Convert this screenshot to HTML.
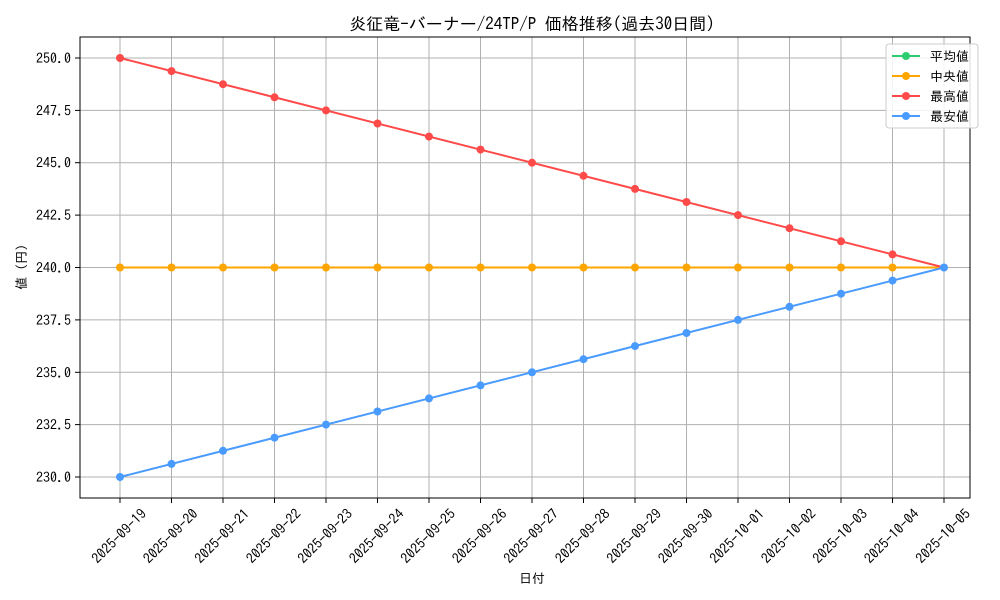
<!DOCTYPE html>
<html><head><meta charset="utf-8"><style>
body{margin:0;background:#fff}
svg{display:block;font-family:"IPAGothic","Noto Sans CJK JP",monospace}
</style></head><body>
<svg width="1000" height="600" viewBox="0 0 1000 600" xmlns="http://www.w3.org/2000/svg">
<rect width="1000" height="600" fill="#fff"/>
<text x="532" y="30" font-size="17" text-anchor="middle" fill="#000">炎征竜-バーナー/24TP/P 価格推移(過去30日間)</text>
<g stroke="#b0b0b0" stroke-width="1">
<line x1="120" y1="37" x2="120" y2="498"/><line x1="171.5" y1="37" x2="171.5" y2="498"/><line x1="223" y1="37" x2="223" y2="498"/><line x1="274.5" y1="37" x2="274.5" y2="498"/><line x1="326" y1="37" x2="326" y2="498"/><line x1="377.5" y1="37" x2="377.5" y2="498"/><line x1="429" y1="37" x2="429" y2="498"/><line x1="480.5" y1="37" x2="480.5" y2="498"/><line x1="532" y1="37" x2="532" y2="498"/><line x1="583.5" y1="37" x2="583.5" y2="498"/><line x1="635" y1="37" x2="635" y2="498"/><line x1="686.5" y1="37" x2="686.5" y2="498"/><line x1="738" y1="37" x2="738" y2="498"/><line x1="789.5" y1="37" x2="789.5" y2="498"/><line x1="841" y1="37" x2="841" y2="498"/><line x1="892.5" y1="37" x2="892.5" y2="498"/><line x1="944" y1="37" x2="944" y2="498"/>
<line x1="80" y1="58" x2="970" y2="58"/><line x1="80" y1="110.4" x2="970" y2="110.4"/><line x1="80" y1="162.7" x2="970" y2="162.7"/><line x1="80" y1="215.1" x2="970" y2="215.1"/><line x1="80" y1="267.5" x2="970" y2="267.5"/><line x1="80" y1="319.9" x2="970" y2="319.9"/><line x1="80" y1="372.3" x2="970" y2="372.3"/><line x1="80" y1="424.6" x2="970" y2="424.6"/><line x1="80" y1="477" x2="970" y2="477"/>
</g>
<rect x="80" y="37" width="890" height="461" fill="none" stroke="#000" stroke-width="1"/>
<g stroke="#000"><line x1="75" y1="58" x2="80" y2="58"/><line x1="75" y1="110.4" x2="80" y2="110.4"/><line x1="75" y1="162.7" x2="80" y2="162.7"/><line x1="75" y1="215.1" x2="80" y2="215.1"/><line x1="75" y1="267.5" x2="80" y2="267.5"/><line x1="75" y1="319.9" x2="80" y2="319.9"/><line x1="75" y1="372.3" x2="80" y2="372.3"/><line x1="75" y1="424.6" x2="80" y2="424.6"/><line x1="75" y1="477" x2="80" y2="477"/></g>
<g font-size="14" text-anchor="end" fill="#000">
<text x="71" y="63">250.0</text><text x="71" y="115.4">247.5</text><text x="71" y="167.7">245.0</text><text x="71" y="220.1">242.5</text><text x="71" y="272.5">240.0</text><text x="71" y="324.9">237.5</text><text x="71" y="377.3">235.0</text><text x="71" y="429.6">232.5</text><text x="71" y="482">230.0</text>
</g>
<text transform="translate(26,267) rotate(-90)" font-size="13" text-anchor="middle">値 (円)</text>
<text x="532" y="583" font-size="13" text-anchor="middle">日付</text>
<g stroke="#000">
<line x1="120" y1="498" x2="120" y2="503"/><line x1="171.5" y1="498" x2="171.5" y2="503"/><line x1="223" y1="498" x2="223" y2="503"/><line x1="274.5" y1="498" x2="274.5" y2="503"/><line x1="326" y1="498" x2="326" y2="503"/><line x1="377.5" y1="498" x2="377.5" y2="503"/><line x1="429" y1="498" x2="429" y2="503"/><line x1="480.5" y1="498" x2="480.5" y2="503"/><line x1="532" y1="498" x2="532" y2="503"/><line x1="583.5" y1="498" x2="583.5" y2="503"/><line x1="635" y1="498" x2="635" y2="503"/><line x1="686.5" y1="498" x2="686.5" y2="503"/><line x1="738" y1="498" x2="738" y2="503"/><line x1="789.5" y1="498" x2="789.5" y2="503"/><line x1="841" y1="498" x2="841" y2="503"/><line x1="892.5" y1="498" x2="892.5" y2="503"/><line x1="944" y1="498" x2="944" y2="503"/>
</g>
<g font-size="14" text-anchor="middle" fill="#000">
<text transform="translate(119,536) rotate(-45)" dy="5">2025-09-19</text>
<text transform="translate(170.5,536) rotate(-45)" dy="5">2025-09-20</text>
<text transform="translate(222,536) rotate(-45)" dy="5">2025-09-21</text>
<text transform="translate(273.5,536) rotate(-45)" dy="5">2025-09-22</text>
<text transform="translate(325,536) rotate(-45)" dy="5">2025-09-23</text>
<text transform="translate(376.5,536) rotate(-45)" dy="5">2025-09-24</text>
<text transform="translate(428,536) rotate(-45)" dy="5">2025-09-25</text>
<text transform="translate(479.5,536) rotate(-45)" dy="5">2025-09-26</text>
<text transform="translate(531,536) rotate(-45)" dy="5">2025-09-27</text>
<text transform="translate(582.5,536) rotate(-45)" dy="5">2025-09-28</text>
<text transform="translate(634,536) rotate(-45)" dy="5">2025-09-29</text>
<text transform="translate(685.5,536) rotate(-45)" dy="5">2025-09-30</text>
<text transform="translate(737,536) rotate(-45)" dy="5">2025-10-01</text>
<text transform="translate(788.5,536) rotate(-45)" dy="5">2025-10-02</text>
<text transform="translate(840,536) rotate(-45)" dy="5">2025-10-03</text>
<text transform="translate(891.5,536) rotate(-45)" dy="5">2025-10-04</text>
<text transform="translate(943,536) rotate(-45)" dy="5">2025-10-05</text>
</g>
<g fill="#ffa500"><polyline fill="none" stroke="#ffa500" stroke-width="2" points="120,267.5 944,267.5"/>
<circle cx="120" cy="267.5" r="4"/><circle cx="171.5" cy="267.5" r="4"/><circle cx="223" cy="267.5" r="4"/><circle cx="274.5" cy="267.5" r="4"/><circle cx="326" cy="267.5" r="4"/><circle cx="377.5" cy="267.5" r="4"/><circle cx="429" cy="267.5" r="4"/><circle cx="480.5" cy="267.5" r="4"/><circle cx="532" cy="267.5" r="4"/><circle cx="583.5" cy="267.5" r="4"/><circle cx="635" cy="267.5" r="4"/><circle cx="686.5" cy="267.5" r="4"/><circle cx="738" cy="267.5" r="4"/><circle cx="789.5" cy="267.5" r="4"/><circle cx="841" cy="267.5" r="4"/><circle cx="892.5" cy="267.5" r="4"/></g>
<g fill="#ff4a4a"><polyline fill="none" stroke="#ff4a4a" stroke-width="2" points="120,58 944,267.5"/>
<circle cx="120" cy="58" r="4"/><circle cx="171.5" cy="71.1" r="4"/><circle cx="223" cy="84.2" r="4"/><circle cx="274.5" cy="97.3" r="4"/><circle cx="326" cy="110.4" r="4"/><circle cx="377.5" cy="123.5" r="4"/><circle cx="429" cy="136.6" r="4"/><circle cx="480.5" cy="149.6" r="4"/><circle cx="532" cy="162.7" r="4"/><circle cx="583.5" cy="175.8" r="4"/><circle cx="635" cy="188.9" r="4"/><circle cx="686.5" cy="202" r="4"/><circle cx="738" cy="215.1" r="4"/><circle cx="789.5" cy="228.2" r="4"/><circle cx="841" cy="241.3" r="4"/><circle cx="892.5" cy="254.4" r="4"/></g>
<g fill="#4a9bff"><polyline fill="none" stroke="#4a9bff" stroke-width="2" points="120,477 944,267.5"/>
<circle cx="120" cy="477" r="4"/><circle cx="171.5" cy="463.9" r="4"/><circle cx="223" cy="450.8" r="4"/><circle cx="274.5" cy="437.7" r="4"/><circle cx="326" cy="424.6" r="4"/><circle cx="377.5" cy="411.5" r="4"/><circle cx="429" cy="398.4" r="4"/><circle cx="480.5" cy="385.4" r="4"/><circle cx="532" cy="372.3" r="4"/><circle cx="583.5" cy="359.2" r="4"/><circle cx="635" cy="346.1" r="4"/><circle cx="686.5" cy="333" r="4"/><circle cx="738" cy="319.9" r="4"/><circle cx="789.5" cy="306.8" r="4"/><circle cx="841" cy="293.7" r="4"/><circle cx="892.5" cy="280.6" r="4"/><circle cx="944" cy="267.5" r="4"/></g>
<rect x="886" y="44" width="92" height="84" rx="3" fill="#fff" fill-opacity="0.85" stroke="#ccc"/>
<g stroke-width="2">
<line x1="892" y1="56" x2="920" y2="56" stroke="#2ecc71"/><circle cx="906" cy="56" r="4" fill="#2ecc71"/>
<line x1="892" y1="76" x2="920" y2="76" stroke="#ffa500"/><circle cx="906" cy="76" r="4" fill="#ffa500"/>
<line x1="892" y1="96" x2="920" y2="96" stroke="#ff4a4a"/><circle cx="906" cy="96" r="4" fill="#ff4a4a"/>
<line x1="892" y1="116" x2="920" y2="116" stroke="#4a9bff"/><circle cx="906" cy="116" r="4" fill="#4a9bff"/>
</g>
<g font-size="13" fill="#000">
<text x="930" y="61">平均値</text><text x="930" y="81">中央値</text><text x="930" y="101">最高値</text><text x="930" y="121">最安値</text>
</g>
</svg>
</body></html>
